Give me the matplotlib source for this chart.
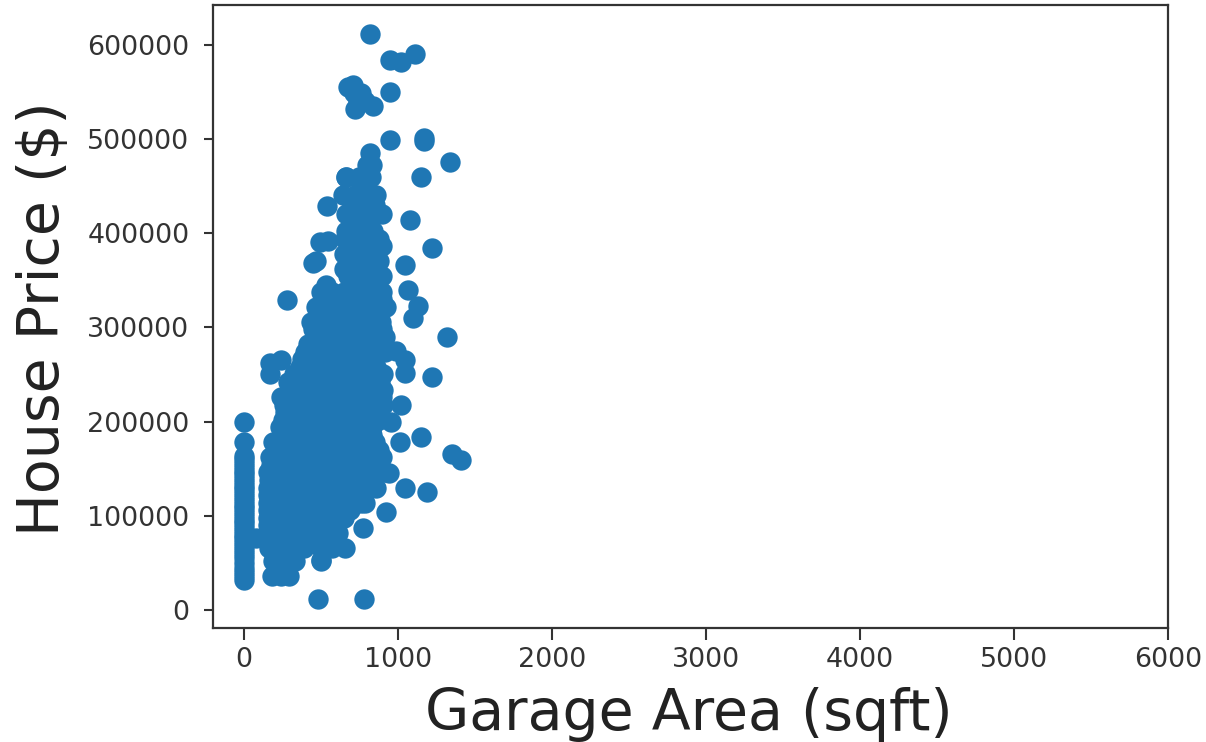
# Garage area vs house price scatter
import matplotlib
matplotlib.use('Agg')
import matplotlib.pyplot as plt

# garages that do not exist, all sit on zero
no_garage_price = [32000, 36000, 40000, 45000, 50000, 55000, 60000, 64000, 68000, 72000, 76000, 80000,
                   84000, 88000, 92000, 96000, 100000, 104000, 108000, 112000, 116000, 120000, 124000,
                   128000, 132000, 136000, 140000, 144000, 148000, 152000, 156000, 160000, 164000,
                   178000, 200000]

# main cloud, one list of garage areas per price level
price_levels = [36000, 52000, 66000, 82000, 98000, 114000, 130000, 146000, 162000, 178000,
                194000, 210000, 226000, 242000, 258000, 274000, 290000, 306000, 322000, 338000,
                354000, 370000, 386000, 402000, 420000, 440000, 459000, 472000]
garage_rows = [
    [185, 240, 295],
    [190, 260, 330, 500],
    [165, 240, 315, 390, 500, 570],
    [156, 230, 305, 380, 455, 540, 610],
    [160, 235, 310, 385, 460, 535, 610, 650],
    [160, 235, 310, 385, 460, 535, 610, 685, 760, 790],
    [160, 235, 310, 385, 460, 535, 610, 685, 760, 860],
    [160, 235, 310, 385, 460, 535, 610, 685, 760, 835, 910],
    [170, 245, 320, 395, 470, 545, 620, 695, 770, 845, 900],
    [188, 260, 335, 410, 485, 560, 635, 710, 785, 850],
    [234, 305, 380, 455, 530, 605, 680, 755, 830],
    [266, 340, 415, 490, 565, 640, 715, 790, 880],
    [240, 315, 390, 465, 540, 615, 690, 765, 840, 900],
    [285, 360, 435, 510, 585, 660, 735, 810, 885],
    [364, 440, 515, 590, 665, 740, 815, 860],
    [396, 470, 545, 620, 695, 770, 845, 915],
    [480, 555, 630, 705, 780, 855, 915],
    [435, 510, 585, 660, 735, 810, 890],
    [468, 540, 615, 690, 765, 840, 920],
    [500, 575, 650, 725, 800, 875, 900],
    [675, 750, 825, 900],
    [680, 755, 830, 880],
    [695, 770, 845, 900],
    [662, 735, 800, 840],
    [662, 745, 820, 900],
    [642, 720, 790, 860],
    [662, 750, 800, 825],
    [800, 830],
]

# points standing apart from the cloud
outlier_area = [818, 948, 1020, 1110, 675, 708, 760, 720, 838, 948, 948, 1169, 1169, 1338, 1149,
                1078, 1221, 279, 539, 1149, 1351, 1409, 1045, 1188, 922, 1221, 1318, 1097, 1130,
                1045, 1045, 1020, 955, 1013, 773, 656, 500, 480, 779, 1065, 1045, 240, 169, 169,
                80, 494, 545, 468, 448, 662, 818, 740, 790, 715, 532, 985, 945]
outlier_price = [611000, 584000, 582000, 590000, 555000, 557000, 549000, 532000, 535000, 550000,
                 499000, 501000, 498000, 475000, 460000, 414000, 384000, 329000, 429000, 184000,
                 166000, 159000, 130000, 125000, 104000, 247000, 290000, 310000, 323000, 265000,
                 252000, 218000, 200000, 178000, 87000, 66000, 53000, 12000, 12000, 340000, 366000,
                 265000, 262000, 250000, 77000, 391000, 392000, 370000, 368000, 459000, 485000,
                 540000, 540000, 549000, 345000, 275000, 145000]

# points along the edges of the cloud, between the price levels above
edge_area = [160, 160, 160, 165, 178, 210, 250, 255, 262, 325, 380, 416, 452, 480, 650, 650, 655,
             700, 590, 690, 770, 830, 885, 880, 830, 880, 905, 905, 905, 905, 900, 895, 860, 850,
             780, 700, 760, 850, 880]
edge_price = [90000, 106000, 122000, 138000, 154000, 170000, 186000, 202000, 218000, 250000, 266000,
              282000, 298000, 314000, 362000, 378000, 394000, 412000, 90000, 106000, 122000, 138000,
              154000, 170000, 186000, 202000, 218000, 234000, 250000, 282000, 298000, 330000, 346000,
              378000, 430000, 430000, 450000, 430000, 394000]

x_ticks = [0, 1000, 2000, 3000, 4000, 5000, 6000]
y_ticks = [0, 100000, 200000, 300000, 400000, 500000, 600000]

area = [0] * len(no_garage_price)
price = list(no_garage_price)
for level, row in zip(price_levels, garage_rows):
    for a in row:
        area.append(a)
        price.append(level)
area += outlier_area + edge_area
price += outlier_price + edge_price

fig = plt.figure(figsize=(12.06, 7.42), dpi=100)
ax = fig.add_axes([213 / 1206, 1 - 628 / 742, 955 / 1206, 623 / 742])
ax.scatter(area, price, s=215, color='#1f77b4', linewidths=0)

ax.set_xlim(-200, 6000)
ax.set_ylim(-19000, 642000)
ax.set_xticks(x_ticks)
ax.set_yticks(y_ticks)
ax.tick_params(axis='x', labelsize=19.4, length=8.5, width=1.5, color='#333333', labelcolor='#333333', pad=5)
ax.tick_params(axis='y', labelsize=19.4, length=6.5, width=1.5, color='#333333', labelcolor='#333333', pad=10.5)
for spine in ax.spines.values():
    spine.set_linewidth(1.6)
    spine.set_color('#333333')

ax.set_xlabel('Garage Area (sqft)', fontsize=41, color='#222222')
ax.set_ylabel('House Price ($)', fontsize=41, color='#222222')
ax.xaxis.set_label_coords(0.4985, -0.094)
ax.yaxis.set_label_coords(-0.149, 0.496)

fig.savefig('out.png', dpi=100)
